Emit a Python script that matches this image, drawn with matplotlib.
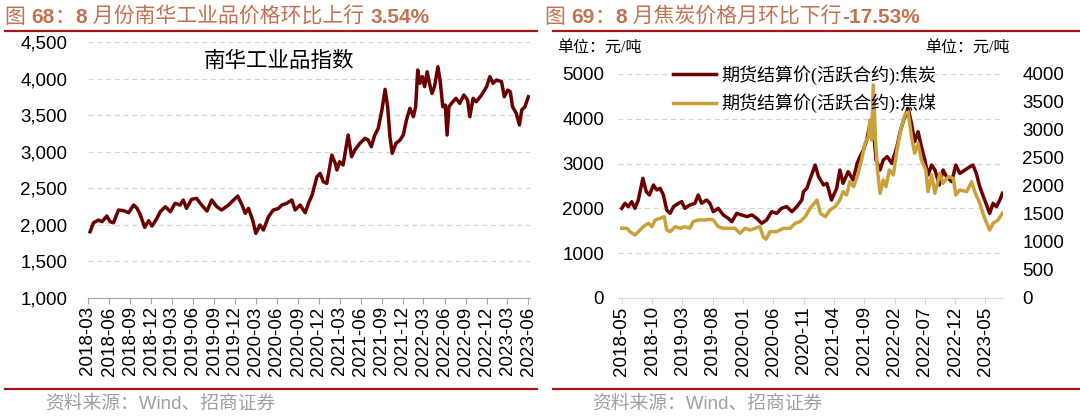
import matplotlib
matplotlib.use("Agg")
import matplotlib.pyplot as plt
import matplotlib.dates as mdates
import matplotlib.ticker as mticker
import pandas as pd

# ---- data ----
nh_dates = ["2018-03-10","2018-03-25","2018-04-16","2018-05-01","2018-05-22","2018-06-05","2018-06-20",
    "2018-07-12","2018-08-03","2018-08-25","2018-09-16","2018-10-01","2018-10-15","2018-11-03","2018-11-20",
    "2018-12-05","2018-12-26","2019-01-10","2019-02-01","2019-02-23","2019-03-15","2019-04-06","2019-04-20",
    "2019-05-04","2019-05-26","2019-06-17","2019-07-09","2019-08-01","2019-08-22","2019-09-13","2019-10-04",
    "2019-11-03","2019-11-25","2019-12-13","2020-01-01","2020-01-15","2020-01-29","2020-02-16","2020-03-01",
    "2020-03-19","2020-04-03","2020-04-25","2020-05-16","2020-06-08","2020-06-22","2020-07-13","2020-08-05",
    "2020-08-19","2020-09-10","2020-10-02","2020-10-16","2020-11-01","2020-11-22","2020-12-06","2020-12-20",
    "2021-01-04","2021-01-26","2021-02-10","2021-02-17","2021-03-01","2021-03-16","2021-04-07","2021-04-22",
    "2021-05-06","2021-05-28","2021-06-19","2021-07-03","2021-07-17","2021-08-01","2021-08-16","2021-09-01",
    "2021-09-15","2021-09-26","2021-10-06","2021-10-16","2021-11-01","2021-11-19","2021-12-03","2021-12-17",
    "2022-01-01","2022-01-16","2022-01-26","2022-02-04","2022-02-14","2022-02-24","2022-03-06","2022-03-17",
    "2022-03-27","2022-04-07","2022-04-18","2022-05-03","2022-05-14","2022-05-24","2022-06-04","2022-06-12",
    "2022-06-20","2022-07-07","2022-07-21","2022-08-06","2022-08-24","2022-09-09","2022-09-19","2022-10-03",
    "2022-10-17","2022-11-09","2022-12-01","2022-12-15","2022-12-29","2023-01-13","2023-02-04","2023-02-16",
    "2023-03-03","2023-03-14","2023-03-24","2023-04-09","2023-04-23","2023-05-03","2023-05-17","2023-06-01"]
nh_vals = [1906,2029,2066,2043,2121,2043,2029,
    2203,2194,2166,2271,2225,2135,1966,2057,
    1984,2089,2180,2248,2180,2294,2271,2340,
    2225,2349,2362,2271,2189,2340,2248,2203,
    2271,2340,2394,2271,2157,2225,2066,1884,
    1998,1930,2112,2203,2225,2271,2294,2340,
    2203,2271,2166,2294,2408,2658,2704,2590,
    2567,2955,2841,2750,2863,2818,3228,2932,
    3023,3114,3183,3160,3068,3228,3319,3570,
    3853,3615,3205,2978,3114,3160,3228,3433,
    3593,3479,3615,4117,3935,4026,3889,4094,
    3935,3798,3889,4162,3935,3615,3638,3228,
    3615,3684,3730,3661,3775,3706,3479,3730,
    3684,3775,3889,4026,3935,3980,3957,3752,
    3843,3820,3615,3525,3365,3570,3615,3752]

coke_dates = ["2018-05-01","2018-05-17","2018-06-03","2018-06-20","2018-07-06","2018-07-23","2018-08-15",
    "2018-09-01","2018-09-17","2018-10-07","2018-10-24","2018-11-10","2018-11-26","2018-12-13","2018-12-30",
    "2019-01-16","2019-02-10","2019-02-26","2019-03-14","2019-04-08","2019-05-04","2019-05-20","2019-06-06",
    "2019-07-01","2019-07-18","2019-08-04","2019-08-29","2019-09-23","2019-10-18","2019-11-05","2019-11-30",
    "2019-12-25","2020-01-20","2020-02-14","2020-03-09","2020-04-03","2020-04-28","2020-05-23","2020-06-18",
    "2020-07-12","2020-08-07","2020-09-02","2020-09-27","2020-10-22","2020-10-30","2020-11-16","2020-12-02",
    "2020-12-28","2021-01-14","2021-02-08","2021-02-25","2021-03-20","2021-04-15","2021-05-01","2021-05-17",
    "2021-06-12","2021-07-07","2021-07-27","2021-08-10","2021-08-27","2021-09-13","2021-09-30","2021-10-13",
    "2021-10-30","2021-11-19","2021-12-05","2021-12-25","2022-01-17","2022-02-12","2022-02-28","2022-03-18",
    "2022-04-09","2022-04-26","2022-05-12","2022-05-29","2022-06-15","2022-07-02","2022-07-18","2022-08-05",
    "2022-08-22","2022-09-13","2022-10-02","2022-10-19","2022-11-14","2022-12-05","2022-12-25","2023-01-20",
    "2023-02-14","2023-03-01","2023-03-18","2023-04-04","2023-04-29","2023-05-24","2023-06-10","2023-06-27",
    "2023-07-14","2023-07-27"]
coke_vals = [2002,2114,2040,2150,2002,2187,2672,
    2373,2299,2522,2411,2448,2299,1964,1890,
    2040,2114,2150,2002,2077,2114,2299,2114,
    2187,2114,1927,2002,1853,1779,1704,1890,
    1853,1816,1853,1779,1667,1741,1927,1890,
    2002,2040,1927,2040,2187,2373,2448,2650,
    2968,2708,2522,2559,2187,2448,2857,2559,
    2820,2634,3006,3155,3303,3527,3899,3973,
    3080,2857,3080,3155,3006,3378,3712,3973,
    4234,3899,3489,3712,3378,3080,2745,2968,
    2857,2522,2857,2708,2596,2968,2782,2857,
    2931,2968,2782,2485,2187,1890,2114,2040,
    2187,2336]

coal_dates = ["2018-05-01","2018-05-26","2018-06-11","2018-07-06","2018-08-01","2018-08-17","2018-09-12",
    "2018-09-29","2018-10-16","2018-11-10","2018-12-01","2018-12-13","2018-12-30","2019-01-25","2019-02-18",
    "2019-03-14","2019-04-08","2019-04-25","2019-05-20","2019-06-23","2019-07-18","2019-08-04","2019-08-29",
    "2019-09-23","2019-10-27","2019-11-21","2019-12-16","2020-01-11","2020-02-05","2020-03-01","2020-03-25",
    "2020-04-11","2020-04-25","2020-05-15","2020-06-18","2020-07-21","2020-08-24","2020-09-19","2020-10-13",
    "2020-11-08","2020-12-02","2021-01-06","2021-01-23","2021-02-17","2021-03-12","2021-04-07","2021-05-01",
    "2021-05-17","2021-06-04","2021-06-20","2021-07-10","2021-08-01","2021-08-18","2021-09-05","2021-09-21",
    "2021-09-30","2021-10-08","2021-10-16","2021-10-28","2021-11-06","2021-11-19","2021-12-05","2021-12-19",
    "2022-01-05","2022-01-25","2022-02-12","2022-03-01","2022-03-23","2022-04-09","2022-04-26","2022-05-12",
    "2022-05-29","2022-06-15","2022-07-07","2022-07-18","2022-08-05","2022-08-22","2022-09-16","2022-10-02",
    "2022-10-28","2022-11-22","2022-12-05","2022-12-25","2023-01-29","2023-02-22","2023-03-10","2023-04-04",
    "2023-04-29","2023-05-24","2023-06-10","2023-07-05","2023-07-27"]
coal_vals = [1245,1245,1185,1125,1214,1274,1334,
    1274,1393,1423,1452,1214,1185,1274,1245,
    1274,1245,1363,1393,1393,1405,1393,1274,
    1245,1245,1245,1155,1245,1214,1245,1274,
    1095,1050,1185,1185,1245,1245,1334,1363,
    1452,1601,1750,1512,1452,1571,1631,1750,
    1899,1840,2077,1988,2227,2465,2763,2882,
    3179,2823,3804,2763,2286,1870,2108,1988,
    2286,2197,2643,2970,3268,3328,2882,2584,
    2763,2465,2286,1899,2197,1870,2227,2048,
    2167,2137,1840,1929,1899,2077,1899,1691,
    1423,1214,1334,1393,1512]

title_left = [("图 ", "normal"), ("68", "bold"), ("：", "normal"), ("8", "bold"),
              (" 月份南华工业品价格环比上行 ", "normal"), ("3.54%", "bold")]
title_right = [("图 ", "normal"), ("69", "bold"), ("：", "normal"), ("8", "bold"),
               (" 月焦炭价格月环比下行", "normal"), ("-17.53%", "bold")]
source = "资料来源：Wind、招商证券"
label_nh = "南华工业品指数"
label_coke = "期货结算价(活跃合约):焦炭"
label_coal = "期货结算价(活跃合约):焦煤"
unit = "单位：元/吨"

RED = "#6a0000"
GOLD = "#c9a03a"
TCOL = "#c4714f"
LINE = "#a3161a"
SANS = ["Liberation Sans", "Noto Sans CJK SC"]
SERIF = ["Liberation Serif", "Noto Sans CJK SC"]
TICK = 13.5

W, H = 1080, 417
fig = plt.figure(figsize=(W / 100, H / 100), dpi=100)
bg = fig.add_axes([0, 0, 1, 1]); bg.axis("off"); bg.set_xlim(0, W); bg.set_ylim(H, 0)

def fx(px): return px / W
def fy(py): return 1 - py / H

def rich_title(x, y, pieces):
    r = fig.canvas.get_renderer()
    for s, wt in pieces:
        t = fig.text(fx(x), fy(y), s, fontsize=15, fontweight=wt, color=TCOL,
                     family=SANS, va="baseline", ha="left")
        bb = t.get_window_extent(renderer=r)
        x = bb.x1

# frame pieces
for x0, x1 in [(5, 537), (553, 1080)]:
    bg.plot([x0, x1], [31, 31], color=LINE, lw=1.6)
    bg.plot([x0, x1], [389, 389], color=LINE, lw=1.6)
rich_title(5, 23, title_left)
rich_title(545, 23, title_right)
fig.text(fx(45), fy(404), source, fontsize=13.5, color="#a0a0a0", family=SANS, va="center")
fig.text(fx(592), fy(404), source, fontsize=13.5, color="#a0a0a0", family=SANS, va="center")

def style_axis(ax, spine_col):
    for s in ["top", "left", "right"]:
        ax.spines[s].set_visible(False)
    ax.spines["bottom"].set_color(spine_col)
    ax.tick_params(axis="x", colors=spine_col, length=4, width=0.8, pad=2,
                   labelcolor="black", labelsize=TICK, labelrotation=90)
    ax.tick_params(axis="y", length=0, labelsize=TICK)
    for lab in ax.get_xticklabels() + ax.get_yticklabels():
        lab.set_family("Liberation Sans")

# ---- left chart ----
ax1 = fig.add_axes([fx(88), fy(298), fx(530 - 88), (298 - 42) / H])
ax1.plot(pd.to_datetime(nh_dates), nh_vals, color=RED, lw=2.5)
ax1.set_ylim(1000, 4500)
ax1.set_yticks(range(1000, 4501, 500))
ax1.yaxis.set_major_formatter(mticker.FuncFormatter(lambda v, p: f"{v:,.0f}"))
ax1.set_xlim(pd.Timestamp("2018-03-01"), pd.Timestamp("2023-06-08"))
ax1.set_xticks(pd.date_range("2018-03-01", "2023-06-01", freq="3MS"))
ax1.xaxis.set_major_formatter(mdates.DateFormatter("%Y-%m"))
ax1.grid(axis="y", color="#d4d4d4", ls=(0, (4, 3)), lw=0.9)
ax1.set_axisbelow(True)
ax1.tick_params(axis="y", pad=15)
style_axis(ax1, "#a6a6a6")
ax1.text(0.432, 0.922, label_nh, transform=ax1.transAxes, ha="center", va="center",
         fontsize=15.5, family=SERIF)

# ---- right chart ----
ax2 = fig.add_axes([fx(618), fy(298), fx(1003 - 618), (298 - 74) / H])
ax3 = ax2.twinx()
l1, = ax2.plot(pd.to_datetime(coke_dates), coke_vals, color=RED, lw=2.5, label=label_coke)
l2, = ax3.plot(pd.to_datetime(coal_dates), coal_vals, color=GOLD, lw=2.5, label=label_coal)
ax2.set_ylim(0, 5000); ax2.set_yticks(range(0, 5001, 1000))
ax3.set_ylim(0, 4000); ax3.set_yticks(range(0, 4001, 500))
ax2.set_xlim(pd.Timestamp("2018-04-12"), pd.Timestamp("2023-07-30"))
ax2.set_xticks(pd.date_range("2018-05-01", "2023-05-01", freq="5MS"))
ax2.xaxis.set_major_formatter(mdates.DateFormatter("%Y-%m"))
ax2.grid(axis="y", color="#d4d4d4", ls=(0, (4, 3)), lw=0.9)
ax2.set_axisbelow(True)
style_axis(ax2, "#d9d9d9")
ax2.tick_params(axis="y", pad=10)
for s in ["top", "left", "right", "bottom"]:
    ax3.spines[s].set_visible(False)
ax3.tick_params(axis="y", length=0, labelsize=TICK, pad=14)
for lab in ax3.get_yticklabels():
    lab.set_family("Liberation Sans")
leg = ax3.legend([l1, l2], [label_coke, label_coal], loc="upper left",
                 bbox_to_anchor=((673 - 618) / 385, (298 - 65) / 224), frameon=False,
                 borderaxespad=0, borderpad=0, handlelength=2.4, handletextpad=0.3,
                 labelspacing=0.5, prop={"family": SERIF, "size": 13})
fig.text(fx(557), fy(48), unit, fontsize=11.5, family=SERIF, va="center")
fig.text(fx(925), fy(48), unit, fontsize=11.5, family=SERIF, va="center")

fig.savefig("out.png", dpi=100)
